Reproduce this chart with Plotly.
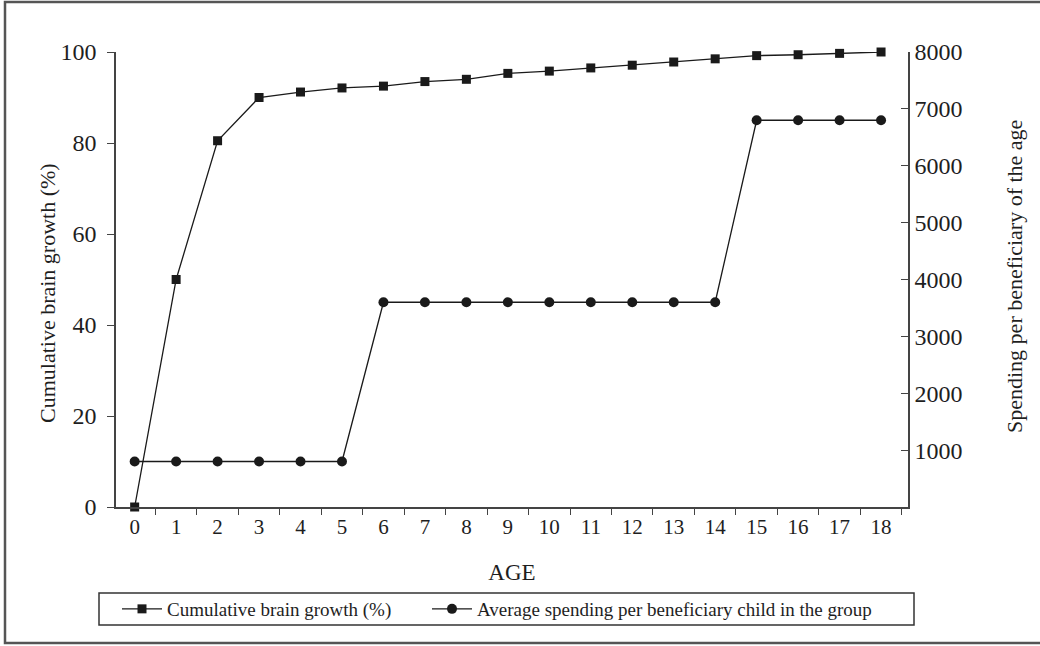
import plotly.graph_objects as go

ages = [str(a) for a in range(19)]
brain_growth = [0, 50, 80.5, 90, 91.2, 92.1, 92.5, 93.5, 94.0, 95.3, 95.8, 96.5,
                97.1, 97.8, 98.5, 99.2, 99.4, 99.7, 100.0]
spending = [800, 800, 800, 800, 800, 800, 3600, 3600, 3600, 3600, 3600, 3600,
            3600, 3600, 3600, 6800, 6800, 6800, 6800]
right_ticks = [1000, 2000, 3000, 4000, 5000, 6000, 7000, 8000]
left_ticks = [0, 20, 40, 60, 80, 100]

FONT = "Liberation Serif"
INK = "#1e1e1e"
AX = "#444444"

# plot area in pixels: left 116, right 908, top 52, bottom 507
PL, PR, PT, PB = 116, 908, 52, 507
W, H = 1040, 646


def px(xp):
    return (xp - PL) / (PR - PL)


def py(yp):
    return (PB - yp) / (PB - PT)


fig = go.Figure()
fig.add_trace(go.Scatter(
    x=ages, y=brain_growth, mode="lines+markers",
    name="Cumulative brain growth (%)",
    line=dict(color="#1a1a1a", width=1.3),
    marker=dict(symbol="square", size=9, color="#1a1a1a"),
    cliponaxis=False, yaxis="y", legend="legend"))
fig.add_trace(go.Scatter(
    x=ages, y=spending, mode="lines+markers",
    name="Average spending per beneficiary child in the group",
    line=dict(color="#1a1a1a", width=1.3),
    marker=dict(symbol="circle", size=10, color="#1a1a1a"),
    cliponaxis=False, yaxis="y2", legend="legend2"))

legend_common = dict(
    orientation="h", yanchor="middle", xanchor="left",
    bgcolor="rgba(0,0,0,0)", borderwidth=0,
    font=dict(family=FONT, size=19, color=INK),
    itemwidth=40,
)

fig.update_layout(
    width=W, height=H,
    margin=dict(l=PL, r=W - PR, t=PT, b=H - PB, autoexpand=False),
    paper_bgcolor="white", plot_bgcolor="white",
    font=dict(family=FONT, color=INK),
    showlegend=True,
    xaxis=dict(
        type="category", tickson="boundaries", range=[-0.45, 18.65],
        showgrid=False, zeroline=False,
        showline=True, linecolor=AX, linewidth=1.5,
        ticks="outside", ticklen=6, tickcolor=AX, tickwidth=1.2,
        tickfont=dict(family=FONT, size=21, color=INK),
        title=dict(text="AGE", font=dict(family=FONT, size=23, color=INK), standoff=26),
    ),
    yaxis=dict(
        range=[0, 100], tickvals=left_ticks,
        showgrid=False, zeroline=False,
        showline=True, linecolor=AX, linewidth=1.5,
        ticks="outside", ticklen=7, tickcolor=AX, tickwidth=1.2,
        ticklabelstandoff=6,
        tickfont=dict(family=FONT, size=24, color=INK),
    ),
    yaxis2=dict(
        range=[0, 8000], tickvals=right_ticks, overlaying="y", side="right",
        showgrid=False, zeroline=False,
        showline=True, linecolor=AX, linewidth=1.5,
        ticks="inside", ticklen=7, tickcolor=AX, tickwidth=1.2,
        tickfont=dict(family=FONT, size=24, color=INK),
    ),
    legend=dict(legend_common, x=px(117), y=py(609)),
    legend2=dict(legend_common, x=px(427), y=py(609)),
    annotations=[
        dict(text="Cumulative brain growth (%)", textangle=-90,
             xref="paper", yref="paper", x=px(47), y=py(293),
             xanchor="center", yanchor="middle", showarrow=False,
             font=dict(family=FONT, size=22, color=INK)),
        dict(text="Spending per beneficiary of the age", textangle=-90,
             xref="paper", yref="paper", x=px(1014), y=py(277),
             xanchor="center", yanchor="middle", showarrow=False,
             font=dict(family=FONT, size=22, color=INK)),
    ],
    shapes=[
        dict(type="rect", xref="paper", yref="paper",
             x0=px(5), x1=px(1046), y0=py(643), y1=py(2),
             line=dict(color="#555555", width=2.5), layer="below"),
        dict(type="rect", xref="paper", yref="paper",
             x0=px(99), x1=px(914), y0=py(625), y1=py(593),
             line=dict(color="#333333", width=1.5), layer="below"),
    ],
)

fig.write_html("out.html", config={"displayModeBar": False},
               post_script="document.body.style.margin='0';")
